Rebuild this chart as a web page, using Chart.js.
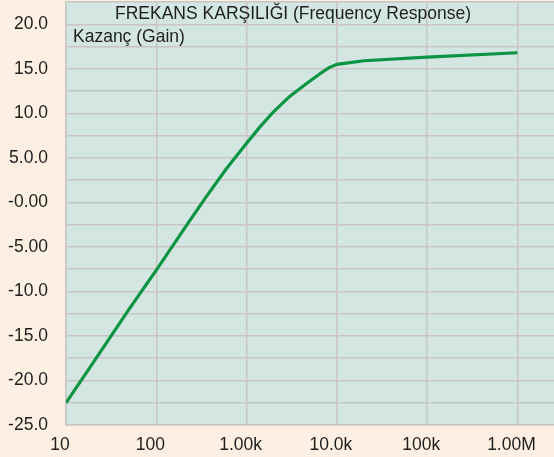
<!DOCTYPE html>
<html>
<head>
<meta charset="utf-8">
<script src="https://cdn.jsdelivr.net/npm/chart.js@4"></script>
<style>
    html, body { margin: 0; padding: 0; background: #FDF0E2; }
    #wrap { width: 554px; height: 457px; }
</style>
</head>
<body>
<div id="wrap"><canvas id="gainChart"></canvas></div>
<script>
// Frequency response data (Hz, dB)
const frequencies = [10, 20, 50, 100, 200, 350, 600, 1000, 1400, 2000, 3000, 4700, 6500, 8100, 10000, 14000, 20000, 100000, 1000000];
const gainDb = [-22.5, -18.0, -12.0, -7.6, -3.1, 0.5, 3.8, 6.65, 8.45, 10.2, 11.9, 13.4, 14.45, 15.1, 15.5, 15.7, 15.9, 16.3, 16.8];

// Axis ticks
const xTickValues = [10, 100, 1000, 10000, 100000, 1000000];
const xTickLabels = ['10', '100', '1.00k', '10.0k', '100k', '1.00M'];
const yTickValues = [20, 15, 10, 5, 0, -5, -10, -15, -20, -25];
const yTickLabels = ['20.0', '15.0', '10.0', '5.0.0', '-0.00', '-5.00', '-10.0', '-15.0', '-20.0', '-25.0'];

const chartTitle = 'FREKANS KARŞILIĞI (Frequency Response)';
const yTitle = 'Kazanç (Gain)';

const FONT = '"Liberation Sans", Arial, sans-serif';
const TEXT = '#1E1E1E';

// plot background + text inside the plot
const plotDecor = {
    id: 'plotDecor',
    beforeDraw(chart) {
        const { ctx, chartArea: a } = chart;
        ctx.save();
        ctx.fillStyle = '#D3E6E2';
        ctx.fillRect(a.left, a.top, a.right - a.left, a.bottom - a.top);
        ctx.restore();
    },
    afterDatasetsDraw(chart) {
        const { ctx, chartArea: a } = chart;
        ctx.save();
        ctx.fillStyle = TEXT;
        ctx.font = '17.5px ' + FONT;
        ctx.textBaseline = 'middle';
        ctx.textAlign = 'center';
        ctx.fillText(chartTitle, 293, 14);
        ctx.textAlign = 'left';
        ctx.fillText(yTitle, a.left + 7, 37);
        ctx.restore();
    }
};

// keep the plot flush with the canvas edges
function noPadding(scale) {
    scale.paddingTop = 0;
    scale.paddingBottom = 0;
    scale.paddingLeft = 0;
    scale.paddingRight = 0;
}

new Chart(document.getElementById('gainChart'), {
    type: 'line',
    data: {
        datasets: [{
            data: frequencies.map((f, i) => ({ x: f, y: gainDb[i] })),
            borderColor: '#0A9444',
            borderWidth: 3.2,
            pointRadius: 0,
            tension: 0,
            fill: false
        }]
    },
    options: {
        responsive: true,
        maintainAspectRatio: false,
        animation: false,
        layout: { padding: { top: 2, right: 0, left: 0, bottom: 0 } },
        plugins: {
            legend: { display: false },
            title: { display: false },
            tooltip: { enabled: false }
        },
        scales: {
            x: {
                type: 'logarithmic',
                min: 10,
                max: 2540000,
                afterBuildTicks(scale) {
                    scale.ticks = xTickValues.map(v => ({ value: v }));
                },
                afterFit(scale) { scale.height = 32; noPadding(scale); },
                grid: { color: '#CAC5C3', lineWidth: 1.5, drawTicks: false },
                border: { color: '#CAC5C3', width: 1.5 },
                ticks: {
                    autoSkip: false,
                    maxRotation: 0,
                    padding: 10,
                    labelOffset: -6,
                    color: TEXT,
                    font: { family: FONT, size: 17.5 },
                    callback(value) {
                        const i = xTickValues.indexOf(value);
                        return i >= 0 ? xTickLabels[i] : '';
                    }
                }
            },
            y: {
                min: -25,
                max: 22.5,
                afterFit(scale) { scale.width = 66; noPadding(scale); },
                grid: { color: '#CAC5C3', lineWidth: 1.5, drawTicks: false },
                border: { color: '#CAC5C3', width: 1.5 },
                ticks: {
                    stepSize: 2.5,
                    autoSkip: false,
                    padding: 18,
                    color: TEXT,
                    font: { family: FONT, size: 17.5 },
                    callback(value) {
                        const i = yTickValues.indexOf(value);
                        return i >= 0 ? yTickLabels[i] : '';
                    }
                }
            }
        }
    },
    plugins: [plotDecor]
});
</script>
</body>
</html>
